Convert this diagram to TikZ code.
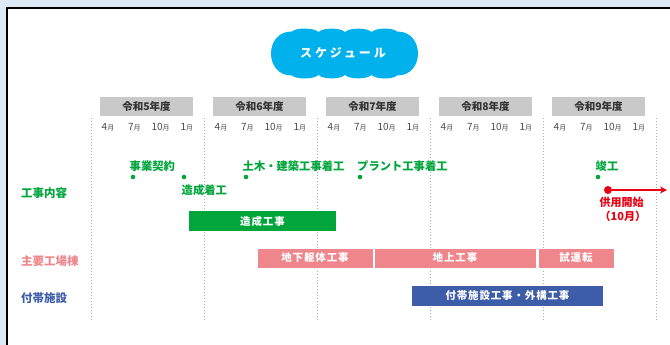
\documentclass[tikz,border=0pt]{standalone}
\usepackage{fontspec}
\usepackage{tikz}
\usetikzlibrary{arrows.meta}

\newfontfamily\jp{Noto Sans CJK JP}
\newfontfamily\jpbar[LetterSpace=8]{Noto Sans CJK JP}
\newfontfamily\jptitle[LetterSpace=24]{Noto Sans CJK JP}

\definecolor{pageblue}{HTML}{DDE9F5}
\definecolor{skyblob}{HTML}{00B1EB}
\definecolor{hdrgray}{HTML}{C9C9C9}
\definecolor{hdrtext}{HTML}{333333}
\definecolor{monthtext}{HTML}{4A4A4A}
\definecolor{divgray}{HTML}{AAAAAA}
\definecolor{workgreen}{HTML}{00A63C}
\definecolor{plantpink}{HTML}{EE868C}
\definecolor{annexblue}{HTML}{3D5DA8}
\definecolor{openred}{HTML}{E60012}

\begin{document}
\begin{tikzpicture}[x=1pt, y=-1pt, >=Stealth,
  yearbox/.style={fill=hdrgray, text=hdrtext, minimum width=93pt, minimum height=19pt,
    inner sep=0pt, font=\jp\bfseries\fontsize{10.5}{10.5}\selectfont},
  monthlbl/.style={text=monthtext, inner sep=0pt},
  divline/.style={divgray, dotted, line width=1pt},
  rowlbl/.style={anchor=west, inner sep=0pt, font=\jp\bfseries\fontsize{11.5}{11.5}\selectfont},
  evdot/.style={circle, fill=workgreen, minimum size=4.6pt, inner sep=0pt},
  evlbl/.style={anchor=west, inner sep=0pt, text=workgreen, font=\jp\bfseries\fontsize{11.3}{11.3}\selectfont},
  barbox/.style={minimum height=20pt, inner sep=0pt, text=white,
    font=\jpbar\bfseries\fontsize{10.5}{10.5}\selectfont},
  pinkbar/.style={barbox, fill=plantpink, draw=white, line width=0.8pt}]

\useasboundingbox (0,0) rectangle (670,345);
\clip (0,0) rectangle (670,345);

%------------------ PAGE + PANEL ------------------%
\fill[pageblue] (0,0) rectangle (670,345);
\fill[white] (7,8.5) rectangle (690,360);
\draw[line width=2pt] (7,360) -- (7,8.5) -- (690,8.5);

%------------------ TITLE BLOB ------------------%
\fill[skyblob] (292,31.5)
  .. controls (296,27.5) and (314,27.5) .. (318.5,32)
  .. controls (323,27.5) and (340.5,27.5) .. (345,32)
  .. controls (349.5,27.5) and (367,27.5) .. (371.5,32)
  .. controls (376,27.5) and (393,27.5) .. (397,31.5)
  .. controls (425,31) and (425,76) .. (397,75.5)
  .. controls (393,79.5) and (376,79.5) .. (371.5,75)
  .. controls (367,79.5) and (349.5,79.5) .. (345,75)
  .. controls (340.5,79.5) and (323,79.5) .. (318.5,75)
  .. controls (314,79.5) and (296,79.5) .. (292,75.5)
  .. controls (264,76) and (264,31) .. (292,31.5) -- cycle;
\node[text=white, font=\jptitle\bfseries\fontsize{12}{12}\selectfont] (title) at (343,53) {スケジュール};

%------------------ YEAR HEADER ------------------%
\foreach \yr [count=\i from 0] in {5,...,9} {
  \node[yearbox] (yr\yr) at ({146.5+113*\i},107) {令和\yr 年度};
  \foreach \m [count=\k from 0] in {4,7,10,1}
    \node[monthlbl] (m\yr-\m) at ({108+113*\i+26.3*\k},127.5)
      {\jp\fontsize{10}{10}\selectfont\m\fontsize{7}{7}\selectfont 月};
}
\foreach \i in {0,...,5}
  \draw[divline] ({91+113*\i},118) -- ({91+113*\i},320);

%------------------ ROW LABELS ------------------%
\node[rowlbl, text=workgreen] (rowWork) at (21,193) {工事内容};
\node[rowlbl, text=plantpink] (rowPlant) at (21,261) {主要工場棟};
\node[rowlbl, text=annexblue] (rowAnnex) at (21,298) {付帯施設};

%------------------ MILESTONES ------------------%
\node[evdot] (dContract) at (133,177) {};
\node[evlbl] (lContract) at (129.5,166) {事業契約};
\node[evdot] (dGrading) at (184,177) {};
\node[evlbl] (lGrading) at (181.5,190) {造成着工};
\node[evdot] (dCivil) at (246,177) {};
\node[evlbl] (lCivil) at (242.5,166) {土木・建築工事着工};
\node[evdot] (dPlant) at (360,177) {};
\node[evlbl] (lPlant) at (357,166) {プラント工事着工};
\node[evdot] (dDone) at (598,177) {};
\node[evlbl] (lDone) at (595.5,166) {竣工};

\node[circle, fill=openred, minimum size=8pt, inner sep=0pt] (dOpen) at (608,190) {};
\coordinate (openEnd) at (667,190);
\draw[->, openred, line width=2pt, >={Stealth[length=7pt,width=7pt]}] (dOpen) -- (openEnd);
\node[anchor=north west, inner sep=0pt, align=left, text=openred,
  font=\jp\bfseries\fontsize{11}{14.5}\selectfont] (lOpen) at (599.5,196.5) {供用開始\\（10月）};

%------------------ BARS ------------------%
\node[barbox, fill=workgreen, minimum width=147pt] (bGrading) at (262.5,221) {造成工事};
\node[pinkbar, minimum width=116pt] (bUnder) at (315,258) {地下躯体工事};
\node[pinkbar, minimum width=162pt] (bAbove) at (455,258) {地上工事};
\node[pinkbar, minimum width=76pt] (bTrial) at (576,258) {試運転};
\node[barbox, fill=annexblue, minimum width=191pt] (bAnnex) at (507.5,296) {付帯施設工事・外構工事};

\end{tikzpicture}
\end{document}
